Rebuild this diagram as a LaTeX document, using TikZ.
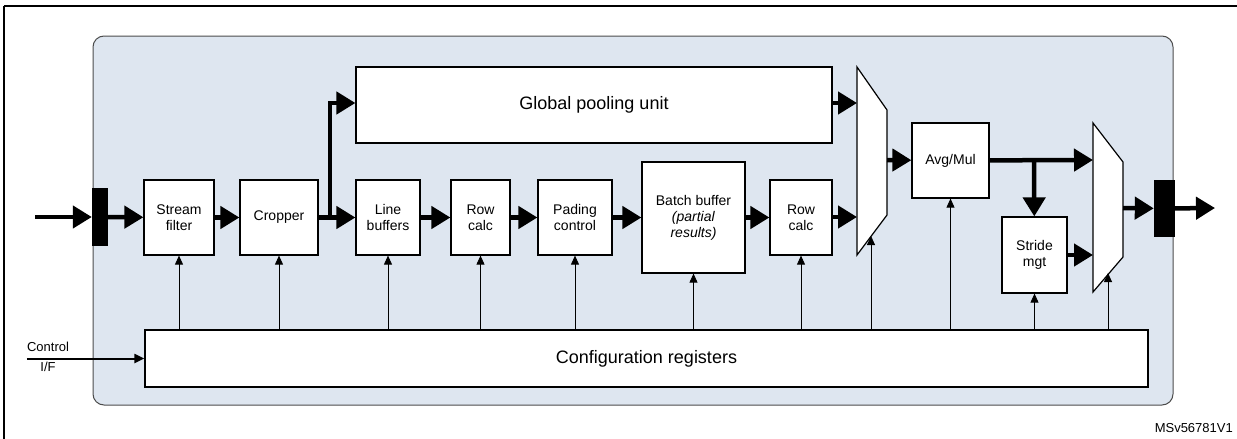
\documentclass[tikz,border=0pt]{standalone}
\usepackage{fontspec}
\setmainfont{Liberation Sans}
\usetikzlibrary{arrows.meta}
\definecolor{panel}{RGB}{222,230,240}
\tikzset{
  blk/.style={draw, fill=white, line width=1.2pt, align=center, inner sep=0pt, font=\fontsize{14}{16}\selectfont},
  bus/.style={line width=4.5pt, -{Triangle[length=19pt,width=22pt]}},
  ctl/.style={line width=0.8pt, -{Triangle[length=9pt,width=8pt]}},
}
\begin{document}
\begin{tikzpicture}[x=1pt, y=-1pt]
    \useasboundingbox (0,0) rectangle (1237,439);

    % Frame and panel
    \draw[line width=1.6pt] (4,6) -- (1245,6);
    \draw[line width=1.6pt] (4,6) -- (4,445);
    \draw[fill=panel, draw=black!70, line width=1pt, rounded corners=11pt] (93,36) rectangle (1173,405);

    % Blocks
    \node (in) [fill=black, minimum width=16pt, minimum height=58pt] at (100,217) {};
    \node (out) [fill=black, minimum width=21pt, minimum height=57pt] at (1164.5,208.5) {};
    \node (stream) [blk, minimum width=70pt, minimum height=75pt] at (179,217.5) {Stream\\filter};
    \node (crop) [blk, minimum width=78pt, minimum height=75pt] at (279,217.5) {Cropper};
    \node (linebuf) [blk, minimum width=64pt, minimum height=75pt] at (388,217.5) {Line\\buffers};
    \node (rowa) [blk, minimum width=59pt, minimum height=75pt] at (480.5,217.5) {Row\\calc};
    \node (pad) [blk, minimum width=74pt, minimum height=75pt] at (575,217.5) {Pading\\control};
    \node (batch) [blk, minimum width=103pt, minimum height=111pt] at (693.5,217.5) {Batch buffer\\\textit{(partial}\\\textit{results)}};
    \node (rowb) [blk, minimum width=62pt, minimum height=75pt] at (801,217.5) {Row\\calc};
    \node (global) [blk, minimum width=476pt, minimum height=76pt, font=\fontsize{18}{21}\selectfont] at (594,105) {Global pooling unit};
    \node (avg) [blk, minimum width=77pt, minimum height=75pt] at (950.5,160.5) {Avg/Mul};
    \node (stride) [blk, minimum width=65pt, minimum height=76pt] at (1034.5,255) {Stride\\mgt};
    \node (config) [blk, minimum width=1003pt, minimum height=57pt, font=\fontsize{18}{21}\selectfont] at (646.5,358.5) {Configuration registers};
    \node (ctrl) [font=\fontsize{13}{14}\selectfont, align=center, inner sep=0pt] at (48,357) {Control\\[6pt]I/F};
    \node (ref) [anchor=east, font=\fontsize{13}{15}\selectfont, inner sep=0pt] at (1233,428) {MSv56781V1};

    % Multiplexers
    \draw[fill=white, line width=1.2pt] (857,67) -- (887,110) -- (887,215) -- (857,255) -- cycle;
    \draw[fill=white, line width=1.2pt] (1093,123) -- (1123,162) -- (1123,257) -- (1093,292) -- cycle;
    \coordinate (muxa_g) at (857,103);
    \coordinate (muxa_r) at (857,217);
    \coordinate (muxa_o) at (887,160);
    \coordinate (muxa_c) at (871,236);
    \coordinate (muxb_a) at (1093,160);
    \coordinate (muxb_s) at (1093,255);
    \coordinate (muxb_o) at (1123,208);
    \coordinate (muxb_c) at (1108,273);
    \coordinate (split) at (330,217);
    \coordinate (branch) at (1034,160);
    \coordinate (inport) at (35,217);
    \coordinate (outport) at (1215,208);

    % Data path
    \draw[bus] (inport) -- (in);
    \draw[bus] (in) -- (stream);
    \draw[bus] (stream) -- (crop);
    \draw[bus] (crop) -- (linebuf);
    \draw[bus] (split) |- (global.west |- muxa_g);
    \draw[bus] (linebuf) -- (rowa);
    \draw[bus] (rowa) -- (pad);
    \draw[bus] (pad) -- (batch);
    \draw[bus] (batch) -- (rowb);
    \draw[bus] (global.east |- muxa_g) -- (muxa_g);
    \draw[bus] (rowb.east |- muxa_r) -- (muxa_r);
    \draw[bus] (muxa_o) -- (avg);
    \draw[bus] (avg) -- (muxb_a);
    \draw[bus] (branch) -- (stride);
    \draw[bus] (stride.east |- muxb_s) -- (muxb_s);
    \draw[bus] (muxb_o) -- (out);
    \draw[bus] (out) -- (outport);
    \draw[line width=2pt, -{Triangle[length=10pt,width=9pt]}] (ctrl.west |- config) -- (config);

    % Control lines
    \foreach \blk in {stream, crop, linebuf, rowa, pad, batch, rowb, avg, stride}
      \draw[ctl] (config.north -| \blk) -- (\blk);
    \draw[ctl] (config.north -| muxa_c) -- (muxa_c);
    \draw[ctl] (config.north -| muxb_c) -- (muxb_c);

\end{tikzpicture}
\end{document}
